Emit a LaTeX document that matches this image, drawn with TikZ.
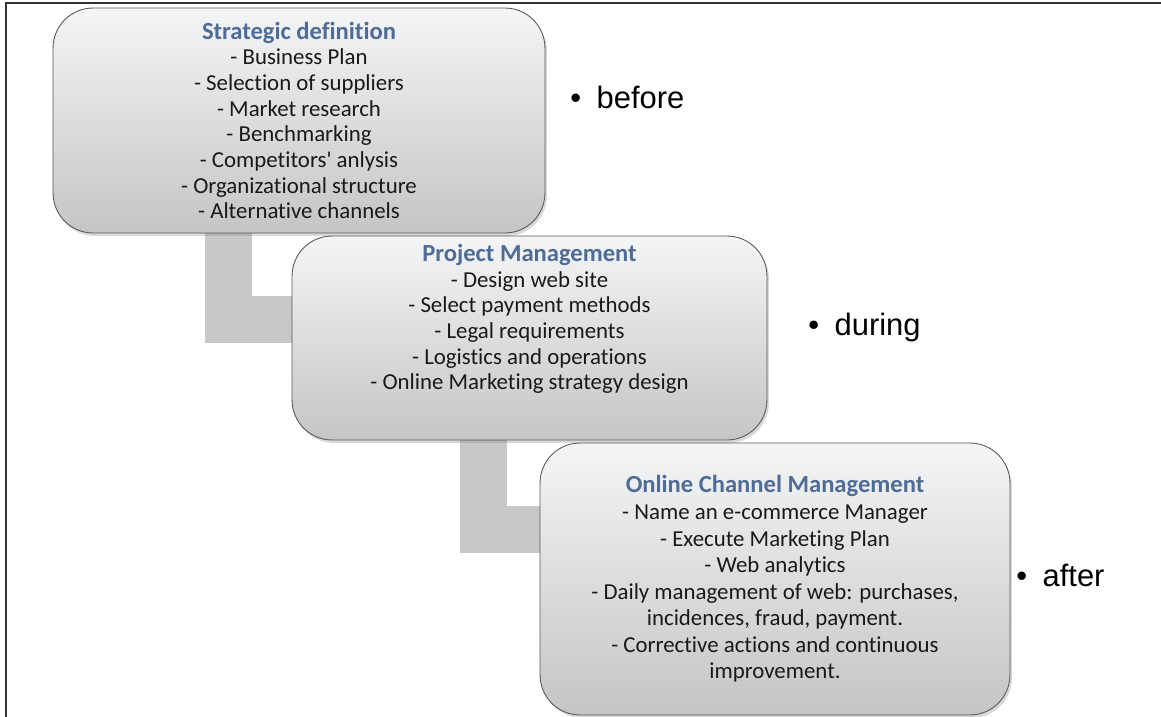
\documentclass[tikz,border=0pt]{standalone}
\usepackage{fontspec}
\setmainfont{Carlito}[Ligatures={TeX,NoCommon}]
\newfontfamily\arialfont{Liberation Sans}
\usetikzlibrary{positioning,shadows,backgrounds}
\definecolor{titleblue}{RGB}{79,108,150}
\definecolor{linkgray}{RGB}{200,200,200}
\definecolor{boxtop}{RGB}{244,245,246}
\definecolor{boxbottom}{RGB}{196,197,199}
\newcommand{\stagetitle}[1]{{\fontsize{14}{14.6}\selectfont\textbf{\color{titleblue}#1}}}
\newcommand{\phasebullet}{•\hspace{0.5em}}
\tikzset{
  stagebox/.style={draw=gray!70!black, line width=0.5pt, rounded corners=0.8cm, top color=boxtop, bottom color=boxbottom, drop shadow={opacity=0.3, shadow xshift=0.04cm, shadow yshift=-0.06cm}},
  stagetext/.style={align=center, inner sep=0pt, text=black!90, font=\fontsize{13}{14.6}\selectfont},
  phaselabel/.style={anchor=base west, inner sep=0pt, font=\arialfont\fontsize{17.6}{20}\selectfont},
  steplink/.style={draw=white, line width=0.03cm, double=linkgray, double distance=0.94cm}
}

\begin{document}
\begin{tikzpicture}[x=0.02cm, y=-0.02cm]
  \useasboundingbox (0,0) rectangle (1161,717);
  % stages
  \node[stagebox, minimum width=9.84cm, minimum height=4.5cm] (sd) at (299,120.5) {};
  \node[stagebox, minimum width=9.5cm, minimum height=4.08cm] (pm) at (529.5,338) {};
  \node[stagebox, minimum width=9.4cm, minimum height=5.44cm] (oc) at (775,579) {};
  \node[stagetext] (sdtext) at (sd.center) {\stagetitle{Strategic definition}\\- Business Plan\\- Selection of suppliers\\- Market research\\- Benchmarking\\- Competitors\textquotesingle{} anlysis\\- Organizational structure\\- Alternative channels};
  \node[stagetext] (pmtext) at ([yshift=0.38cm]pm.center) {\stagetitle{Project Management}\\- Design web site\\- Select payment methods\\- Legal requirements\\- Logistics and operations\\- Online Marketing strategy design};
  \node[stagetext, font=\fontsize{13}{15.1}\selectfont] (octext) at (oc.center) {\stagetitle{Online Channel Management}\\- Name an e-commerce Manager\\- Execute Marketing Plan\\- Web analytics\\- Daily management of web: purchases,\\incidences, fraud, payment.\\- Corrective actions and continuous\\improvement.};
  % links between stages
  \begin{scope}[on background layer]
    \draw[gray!40!black, line width=1pt] (6,717) -- (6,3) -- (1161,3);
    \draw[steplink] ([xshift=-1.42cm]sd.south) |- ([yshift=0.38cm]pm.west);
    \draw[steplink] ([xshift=-0.93cm]pm.south) |- ([yshift=1.0cm]oc.west);
  \end{scope}
  % phases
  \node[phaselabel] (before) at (570,108) {\phasebullet before};
  \node[phaselabel] (during) at (808,335) {\phasebullet during};
  \node[phaselabel] (after) at (1016,586) {\phasebullet after};
\end{tikzpicture}
\end{document}
